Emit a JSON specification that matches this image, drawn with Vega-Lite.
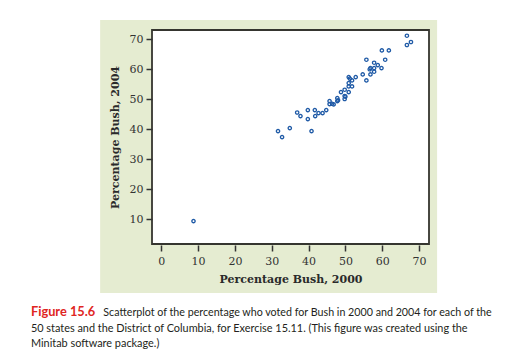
{
  "$schema": "https://vega.github.io/schema/vega-lite/v6.json",
  "autosize": "none",
  "width": 277,
  "height": 214,
  "padding": {"left": 152, "top": 30, "right": 91, "bottom": 119},
  "background": "white",
  "config": {
    "view": {"stroke": null},
    "axis": {
      "grid": false,
      "domain": false,
      "labelOverlap": false,
      "labelFont": "DejaVu Serif",
      "labelFontSize": 11,
      "labelColor": "#333333",
      "tickColor": "#333333",
      "tickWidth": 1.5,
      "tickSize": 6,
      "titleFont": "DejaVu Serif",
      "titleFontSize": 11,
      "titleFontWeight": "bold",
      "titleColor": "#2a2a2a"
    }
  },
  "layer": [
    {
      "data": {"values": [{}]},
      "mark": {"type": "rect", "fill": "#e5ecd1"},
      "encoding": {
        "x": {"datum": -16.6, "type": "quantitative",
              "scale": {"domain": [-2.52, 72.7], "nice": false, "zero": false},
              "axis": {"values": [0, 10, 20, 30, 40, 50, 60, 70], "tickCount": 20, "title": "Percentage Bush, 2000", "offset": 1, "labelPadding": 4, "titlePadding": 7, "zindex": 1, "labelOverlap": false}},
        "x2": {"datum": 74.9},
        "y": {"datum": 76.3, "type": "quantitative",
              "scale": {"domain": [1.67, 73], "nice": false, "zero": false},
              "axis": {"values": [10, 20, 30, 40, 50, 60, 70], "tickCount": 20, "title": "Percentage Bush, 2004", "labelPadding": 3, "titlePadding": 9, "zindex": 1, "labelOverlap": false}},
        "y2": {"datum": -14.7}
      }
    },
    {
      "data": {"values": [{}]},
      "mark": {"type": "rect", "fill": "white", "stroke": "#35352f", "strokeWidth": 1.8},
      "encoding": {
        "x": {"datum": -2.52, "type": "quantitative"},
        "x2": {"datum": 72.7},
        "y": {"datum": 73, "type": "quantitative"},
        "y2": {"datum": 1.67}
      }
    },
    {
      "data": {"values": [
        {"bush2000": 8.75, "bush2004": 9.3},
        {"bush2000": 31.7, "bush2004": 39.3},
        {"bush2000": 32.8, "bush2004": 37.3},
        {"bush2000": 34.9, "bush2004": 40.3},
        {"bush2000": 36.9, "bush2004": 45.5},
        {"bush2000": 37.8, "bush2004": 44.3},
        {"bush2000": 39.8, "bush2004": 46.3},
        {"bush2000": 39.8, "bush2004": 43.3},
        {"bush2000": 40.8, "bush2004": 39.3},
        {"bush2000": 41.7, "bush2004": 46.3},
        {"bush2000": 41.8, "bush2004": 44.3},
        {"bush2000": 42.7, "bush2004": 45.3},
        {"bush2000": 43.8, "bush2004": 45.3},
        {"bush2000": 44.8, "bush2004": 46.3},
        {"bush2000": 45.7, "bush2004": 49.3},
        {"bush2000": 45.7, "bush2004": 48.3},
        {"bush2000": 46.8, "bush2004": 48.2},
        {"bush2000": 47.8, "bush2004": 50.3},
        {"bush2000": 47.8, "bush2004": 49.3},
        {"bush2000": 48.8, "bush2004": 52.3},
        {"bush2000": 49.8, "bush2004": 53.1},
        {"bush2000": 49.8, "bush2004": 51.0},
        {"bush2000": 49.8, "bush2004": 50.0},
        {"bush2000": 50.9, "bush2004": 57.3},
        {"bush2000": 50.9, "bush2004": 55.3},
        {"bush2000": 50.9, "bush2004": 54.2},
        {"bush2000": 50.9, "bush2004": 52.3},
        {"bush2000": 51.8, "bush2004": 56.2},
        {"bush2000": 51.8, "bush2004": 54.2},
        {"bush2000": 52.8, "bush2004": 57.3},
        {"bush2000": 54.7, "bush2004": 58.2},
        {"bush2000": 55.7, "bush2004": 63.1},
        {"bush2000": 55.7, "bush2004": 56.2},
        {"bush2000": 56.8, "bush2004": 60.3},
        {"bush2000": 56.8, "bush2004": 58.2},
        {"bush2000": 57.8, "bush2004": 62.1},
        {"bush2000": 57.8, "bush2004": 60.3},
        {"bush2000": 57.8, "bush2004": 59.1},
        {"bush2000": 58.8, "bush2004": 61.3},
        {"bush2000": 59.8, "bush2004": 60.3},
        {"bush2000": 59.9, "bush2004": 66.2},
        {"bush2000": 60.8, "bush2004": 63.1},
        {"bush2000": 61.8, "bush2004": 66.2},
        {"bush2000": 66.7, "bush2004": 71.1},
        {"bush2000": 66.7, "bush2004": 68.0},
        {"bush2000": 67.8, "bush2004": 69.0},
        {"bush2000": 50.0, "bush2004": 50.8},
        {"bush2000": 48.0, "bush2004": 49.6},
        {"bush2000": 46.4, "bush2004": 48.4},
        {"bush2000": 56.6, "bush2004": 59.9},
        {"bush2000": 51.2, "bush2004": 56.8}
      ]},
      "mark": {"type": "point", "shape": "circle", "filled": false, "stroke": "#1f5aa6", "strokeWidth": 1.3, "size": 11, "opacity": 1},
      "encoding": {
        "x": {"field": "bush2000", "type": "quantitative"},
        "y": {"field": "bush2004", "type": "quantitative"}
      }
    },
    {
      "data": {"values": [{}]},
      "mark": {"type": "text", "text": "Figure 15.6", "font": "Lato", "fontSize": 12.8, "fontWeight": "bold", "color": "#e0261f", "align": "left", "baseline": "alphabetic"},
      "encoding": {
        "x": {"datum": -35.4, "type": "quantitative"},
        "y": {"datum": -22.23, "type": "quantitative"}
      }
    },
    {
      "data": {"values": [{}]},
      "mark": {"type": "text", "text": "Scatterplot of the percentage who voted for Bush in 2000 and 2004 for each of the", "font": "Lato", "fontSize": 10.7, "color": "#231f20", "align": "left", "baseline": "alphabetic"},
      "encoding": {
        "x": {"datum": -15.73, "type": "quantitative"},
        "y": {"datum": -22.23, "type": "quantitative"}
      }
    },
    {
      "data": {"values": [{}]},
      "mark": {"type": "text", "text": ["50 states and the District of Columbia, for Exercise 15.11. (This figure was created using the", "Minitab software package.)"], "font": "Lato", "fontSize": 10.9, "lineHeight": 15, "color": "#231f20", "align": "left", "baseline": "alphabetic"},
      "encoding": {
        "x": {"datum": -35.4, "type": "quantitative"},
        "y": {"datum": -27.57, "type": "quantitative"}
      }
    }
  ]
}
